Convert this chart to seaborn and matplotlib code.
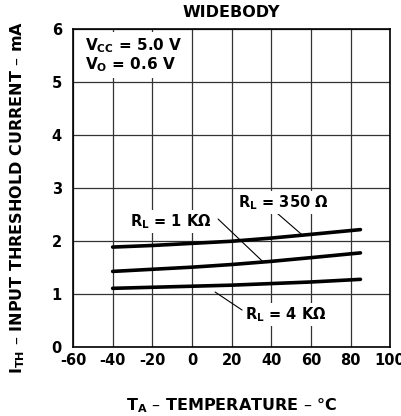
import pandas as pd
import matplotlib
matplotlib.use('Agg')
import matplotlib.pyplot as plt
import seaborn as sns

temps = [-40, -20, 0, 20, 40, 60, 85]
rl_350 = [1.88, 1.91, 1.95, 1.99, 2.05, 2.12, 2.21]
rl_1k = [1.42, 1.46, 1.50, 1.55, 1.61, 1.68, 1.77]
rl_4k = [1.10, 1.12, 1.14, 1.16, 1.19, 1.22, 1.27]
series_names = ['350', '1K', '4K']

df = pd.DataFrame({
    'temp': temps * 3,
    'ith': rl_350 + rl_1k + rl_4k,
    'rl': [n for n in series_names for _ in temps],
})

sns.set_style('white')
plt.rcParams['font.family'] = ['DejaVu Sans']
plt.rcParams['mathtext.default'] = 'bf'
plt.rcParams['axes.unicode_minus'] = False
plt.rcParams['text.color'] = 'black'
plt.rcParams['axes.labelcolor'] = 'black'
plt.rcParams['xtick.color'] = 'black'
plt.rcParams['ytick.color'] = 'black'

fig = plt.figure(figsize=(4.01, 4.16), dpi=100)
ax = fig.add_axes([0.182, 0.167, 0.791, 0.763])

sns.lineplot(data=df, x='temp', y='ith', hue='rl', palette=['black'] * 3,
             linewidth=2.6, legend=False, ax=ax, zorder=3)

ax.set_xlim(-60, 100)
ax.set_ylim(0, 6)
ax.set_xticks(range(-60, 101, 20))
ax.set_yticks(range(0, 7))
ax.grid(True, color='#333333', linewidth=0.9, zorder=0)
ax.set_axisbelow(True)
for s in ax.spines.values():
    s.set_color('black')
    s.set_linewidth(1.2)
ax.tick_params(axis='x', length=0, labelsize=10.5, pad=5)
ax.tick_params(axis='y', length=0, labelsize=10.5, pad=8)
for lbl in ax.get_xticklabels() + ax.get_yticklabels():
    lbl.set_fontweight('bold')

ax.set_title('WIDEBODY', fontsize=11.5, fontweight='bold', pad=9)
ax.set_xlabel('T$_A$ – TEMPERATURE – °C', fontsize=11.5, fontweight='bold', labelpad=20)
ax.set_ylabel('I$_{TH}$ – INPUT THRESHOLD CURRENT – mA', fontsize=11.5,
              fontweight='bold')
ax.yaxis.set_label_coords(-0.145, 0.47)

box = dict(facecolor='white', edgecolor='none', pad=1.5)
ax.text(-54, 5.86, 'V$_{CC}$ = 5.0 V\nV$_O$ = 0.6 V', fontsize=11,
        fontweight='bold', va='top', ha='left', linespacing=1.0,
        bbox=dict(facecolor='white', edgecolor='none', pad=3), zorder=4)

ax.text(23, 2.72, 'R$_L$ = 350 Ω', fontsize=10.5, fontweight='bold',
        va='center', ha='left', bbox=box, zorder=4)
ax.text(-31, 2.36, 'R$_L$ = 1 KΩ', fontsize=10.5, fontweight='bold',
        va='center', ha='left', bbox=box, zorder=4)
ax.text(27, 0.6, 'R$_L$ = 4 KΩ', fontsize=10.5, fontweight='bold',
        va='center', ha='left', bbox=box, zorder=4)

ax.plot([43, 55.6], [2.52, 2.11], color='black', linewidth=0.8, zorder=2)
ax.plot([13.2, 35.9], [2.41, 1.60], color='black', linewidth=0.8, zorder=2)
ax.plot([11.7, 25.3], [1.03, 0.69], color='black', linewidth=0.8, zorder=2)

fig.savefig('out.png', dpi=100)
